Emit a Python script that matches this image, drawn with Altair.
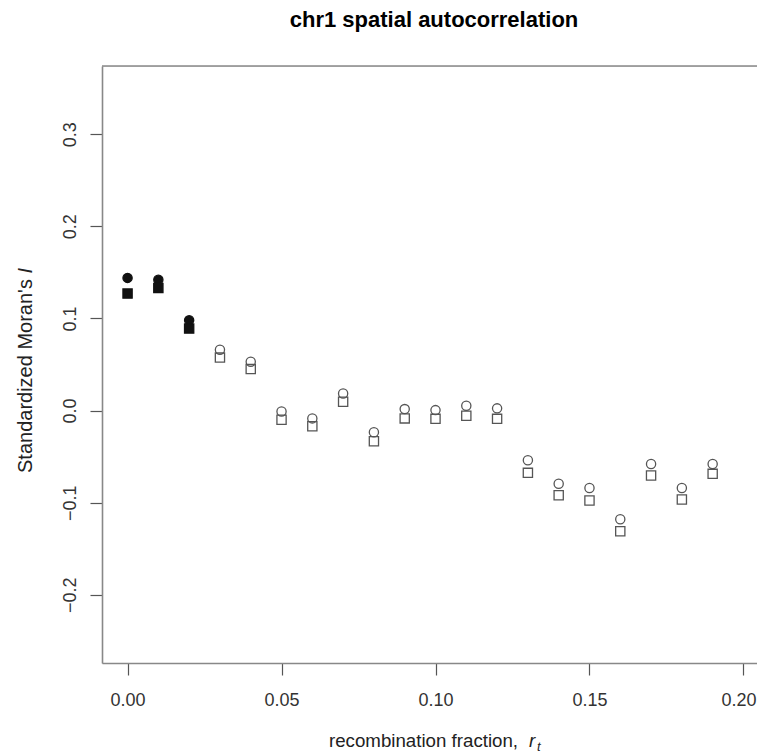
import altair as alt
import pandas as pd

# ---- data ----
r_frac = [0.00, 0.01, 0.02, 0.03, 0.04, 0.05, 0.06, 0.07, 0.08, 0.09,
          0.10, 0.11, 0.12, 0.13, 0.14, 0.15, 0.16, 0.17, 0.18, 0.19]
moran_circle = [0.144, 0.142, 0.098, 0.066, 0.053, -0.001, -0.0085, 0.0186, -0.0236, 0.0016,
                0.0005, 0.0052, 0.0024, -0.054, -0.0795, -0.084, -0.118, -0.058, -0.084, -0.058]
moran_square = [0.127, 0.133, 0.089, 0.0575, 0.045, -0.010, -0.017, 0.0095, -0.0333, -0.0085,
                -0.009, -0.0056, -0.009, -0.0676, -0.092, -0.0976, -0.131, -0.0705, -0.0965, -0.0687]
significant = ["yes", "yes", "yes"] + ["no"] * 17

x_ticks = [0.00, 0.05, 0.10, 0.15, 0.20]
y_ticks = [-0.2, -0.1, 0.0, 0.1, 0.2, 0.3]

title_text = "chr1 spatial autocorrelation"
x_title_main = "recombination fraction,"
x_title_r = "r"
x_title_sub = "t"
y_title_main = "Standardized Moran's"
y_title_i = "I"

rows = []
for i, x in enumerate(r_frac):
    rows.append({"r": x, "I": moran_circle[i], "stat": "circle", "sig": significant[i]})
    rows.append({"r": x, "I": moran_square[i], "stat": "square", "sig": significant[i]})
df = pd.DataFrame(rows)

W, H = 655, 597
FONT = "Liberation Sans"
BOX = "#888888"

points = alt.Chart(df).mark_point(filled=True, size=85, strokeWidth=1.3, opacity=1).encode(
    x=alt.X("r:Q", scale=alt.Scale(domain=[-0.0083, 0.2044], nice=False, zero=False),
            axis=alt.Axis(values=x_ticks, format=".2f", title=None, grid=False,
                          domain=True, domainColor=BOX, domainWidth=1.6,
                          tickSize=12, tickColor="#555555", tickWidth=1.2,
                          labelFontSize=18, labelFont=FONT, labelColor="#333333",
                          labelBaseline="alphabetic", labelPadding=30,
                          labelOffset={"condition": {"test": "datum.value > 0.199", "value": -5}, "value": 0},
                          labelFlush=False, labelOverlap=False)),
    y=alt.Y("I:Q", scale=alt.Scale(domain=[-0.274, 0.374], nice=False, zero=False),
            axis=alt.Axis(values=y_ticks, format=".1f", title=None, grid=False,
                          domain=True, domainColor=BOX, domainWidth=1.6,
                          tickSize=12, tickColor="#555555", tickWidth=1.2,
                          labelFontSize=18, labelFont=FONT, labelColor="#333333",
                          labelAngle=270, labelAlign="center", labelBaseline="alphabetic",
                          labelPadding=15, labelFlush=False, labelOverlap=False)),
    shape=alt.Shape("stat:N", scale=alt.Scale(domain=["circle", "square"], range=["circle", "square"]), legend=None),
    fill=alt.Fill("sig:N", scale=alt.Scale(domain=["yes", "no"], range=["#111111", "transparent"]), legend=None),
    stroke=alt.Stroke("sig:N", scale=alt.Scale(domain=["yes", "no"], range=["#111111", "#555555"]), legend=None),
)

top_line = alt.Chart(pd.DataFrame({"k": [0]})).mark_rule(color=BOX, strokeWidth=1.6).encode(
    x=alt.value(0), x2=alt.value(W), y=alt.value(0))


def txt(s, x, y, **kw):
    return alt.Chart(pd.DataFrame({"t": [s]})).mark_text(font=FONT, **kw).encode(
        text="t:N", x=alt.value(x), y=alt.value(y))


title = txt(title_text, 332, -39, fontSize=22, fontWeight="bold", align="center",
            baseline="alphabetic", color="#000000")
xt1 = txt(x_title_main, 227, 681, fontSize=18.7, align="left", baseline="alphabetic", color="#222222")
xt2 = txt(x_title_r, 427, 681, fontSize=18.7, fontStyle="italic", align="left", baseline="alphabetic", color="#222222")
xt3 = txt(x_title_sub, 435, 685, fontSize=13, fontStyle="italic", align="left", baseline="alphabetic", color="#222222")
yt1 = txt(y_title_main, -70, 407, fontSize=20, angle=270, align="left", baseline="alphabetic", color="#222222")
yt2 = txt(y_title_i, -70, 202, fontSize=20, angle=270, fontStyle="italic", align="right", baseline="alphabetic", color="#222222")

chart = alt.layer(points, top_line, title, xt1, xt2, xt3, yt1, yt2).properties(
    width=W, height=H,
    autosize=alt.AutoSizeParams(type="none"),
    padding={"left": 94, "top": 58, "right": 0, "bottom": 91},
).configure_view(stroke=None).configure(background="white")

chart.save("out.html", embed_options={"renderer": "svg", "actions": False})
